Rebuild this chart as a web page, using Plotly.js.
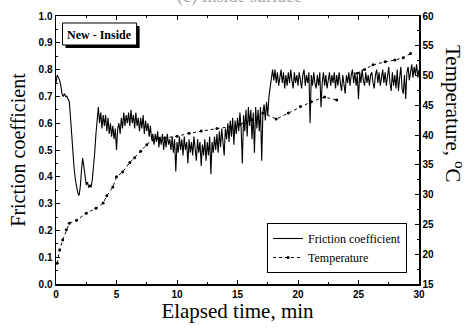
<!DOCTYPE html>
<html>
<head>
<meta charset="utf-8">
<script src="https://cdn.plot.ly/plotly-3.0.1.min.js"></script>
<style>html,body{margin:0;padding:0;background:#fff;}#chart{width:469px;height:331px;}</style>
</head>
<body>
<div id="chart"></div>
<script>
// Friction coefficient sampled every 0.1 min from 0 to 30 min
const frictionStart = 0;
const frictionStep = 0.1;
const friction = [
0.75,0.78,0.77,0.76,0.74,0.71,0.70,0.71,0.70,0.70,
0.69,0.68,0.62,0.55,0.48,0.43,0.39,0.36,0.34,0.33,
0.36,0.42,0.47,0.44,0.40,0.37,0.38,0.36,0.37,0.36,
0.39,0.43,0.49,0.56,0.63,0.66,0.60,0.64,0.58,0.63,
0.59,0.63,0.57,0.62,0.56,0.60,0.55,0.59,0.54,0.58,
0.50,0.58,0.60,0.56,0.62,0.58,0.64,0.59,0.63,0.60,
0.64,0.59,0.65,0.60,0.63,0.58,0.64,0.59,0.62,0.57,
0.62,0.58,0.63,0.56,0.61,0.57,0.60,0.55,0.59,0.54,
0.56,0.52,0.56,0.53,0.57,0.51,0.55,0.52,0.56,0.50,
0.55,0.51,0.56,0.52,0.54,0.50,0.55,0.49,0.54,0.42,
0.53,0.49,0.55,0.50,0.54,0.48,0.55,0.50,0.53,0.45,
0.54,0.49,0.53,0.48,0.55,0.50,0.46,0.54,0.49,0.53,
0.44,0.52,0.48,0.54,0.46,0.53,0.48,0.55,0.41,0.53,
0.49,0.55,0.50,0.56,0.49,0.57,0.51,0.58,0.52,0.48,
0.58,0.54,0.60,0.53,0.61,0.55,0.62,0.52,0.61,0.56,
0.62,0.57,0.64,0.58,0.45,0.63,0.57,0.65,0.55,0.66,
0.59,0.65,0.54,0.64,0.49,0.66,0.58,0.65,0.57,0.66,
0.46,0.64,0.67,0.61,0.68,0.63,0.70,0.74,0.78,0.80,
0.76,0.80,0.75,0.79,0.74,0.78,0.80,0.75,0.79,0.73,
0.78,0.74,0.79,0.75,0.80,0.76,0.73,0.79,0.75,0.78,
0.74,0.79,0.75,0.73,0.78,0.80,0.74,0.78,0.75,0.79,
0.60,0.78,0.74,0.79,0.75,0.73,0.78,0.74,0.79,0.66,
0.75,0.79,0.74,0.78,0.73,0.77,0.79,0.74,0.78,0.75,
0.79,0.73,0.78,0.74,0.79,0.75,0.72,0.78,0.74,0.71,
0.78,0.75,0.79,0.74,0.78,0.80,0.75,0.79,0.74,0.78,
0.69,0.79,0.75,0.80,0.76,0.74,0.79,0.75,0.78,0.74,
0.78,0.79,0.75,0.73,0.78,0.80,0.75,0.79,0.74,0.78,
0.80,0.75,0.79,0.74,0.78,0.81,0.75,0.72,0.79,0.74,
0.78,0.73,0.80,0.72,0.77,0.81,0.73,0.71,0.78,0.69,
0.79,0.81,0.76,0.80,0.82,0.77,0.81,0.78,0.82,0.77,0.80
];

// Temperature (deg C) vs elapsed time (min); null = gap in the record
const tempTime = [0.1,0.3,0.55,0.85,1.1,1.7,2.5,3.3,3.9,4.2,4.7,5.0,5.5,6.1,6.5,7.0,7.5,8.0,8.5,9.0,10.0,11.0,12.0,13.3,14.4,15.2,16.2,17.1,18.2,19.2,20.2,21.1,22.2,23.2,24.0,24.9,25.5,26.2,27.2,28.0,28.7,29.3];
const temperature = [18.5,20.7,22.4,24.1,25.2,25.7,26.9,27.7,28.6,29.8,31.3,33.0,33.8,35.4,36.2,37.3,38.4,39.2,39.4,39.5,39.8,40.3,40.7,41.1,41.4,41.8,42.6,43.7,42.7,43.7,44.8,45.6,46.4,45.9,null,50.4,51.0,51.8,52.3,52.6,53.0,53.7];

const xTicks = [0,5,10,15,20,25,30];
const seriesNames = ['Friction coefficient','Temperature'];

const serif = 'Liberation Serif, Times New Roman, serif';
const sans = 'Liberation Sans, Arial, sans-serif';

const traces = [
  {
    type:'scatter', mode:'lines', name:seriesNames[0],
    x0:frictionStart, dx:frictionStep, y:friction,
    line:{color:'#000', width:1.1}, xaxis:'x', yaxis:'y'
  },
  {
    type:'scatter', mode:'lines+markers', name:seriesNames[1],
    x:tempTime, y:temperature, connectgaps:false,
    line:{color:'#000', width:1, dash:'3px,3px'},
    marker:{color:'#000', size:3},
    xaxis:'x', yaxis:'y2'
  }
];

function px2x(p){return (p-56.5)/362.5;}
function py2y(p){return (284-p)/268;}

const layout = {
  width:469, height:331,
  margin:{l:56, r:50, t:16, b:47, pad:0},
  paper_bgcolor:'#fff', plot_bgcolor:'#fff',
  showlegend:true,
  legend:{
    x:px2x(407), y:py2y(273), xanchor:'right', yanchor:'bottom',
    bgcolor:'#fff', bordercolor:'#000', borderwidth:1,
    font:{family:serif, size:12, color:'#000'},
    tracegroupgap:0, itemwidth:30
  },
  xaxis:{
    range:[0,30], tickvals:xTicks, ticktext:xTicks.map(String),
    ticks:'inside', ticklen:4, tickwidth:1, tickcolor:'#000',
    minor:{ticks:'inside', dtick:2.5, tick0:0, ticklen:2, tickcolor:'#000'},
    showline:true, linecolor:'#000', linewidth:1.5, mirror:'ticks',
    showgrid:false, zeroline:false,
    tickfont:{family:sans, size:10, color:'#000', weight:'bold'},
    title:{text:'Elapsed time, min', font:{family:serif, size:21, color:'#000'}, standoff:4}
  },
  yaxis:{
    range:[0,1], dtick:0.1, tick0:0, tickformat:'.1f',
    ticks:'inside', ticklen:4, tickwidth:1, tickcolor:'#000',
    minor:{ticks:'inside', dtick:0.05, ticklen:2, tickcolor:'#000'},
    showline:true, linecolor:'#000', linewidth:1.5, mirror:true,
    showgrid:false, zeroline:false,
    tickfont:{family:sans, size:10, color:'#000', weight:'bold'},
    title:{text:'Friction coefficient', font:{family:serif, size:20, color:'#000'}, standoff:7}
  },
  yaxis2:{
    overlaying:'y', side:'right', range:[15,60], dtick:5, tick0:15,
    ticks:'inside', ticklen:4, tickwidth:1, tickcolor:'#000',
    minor:{ticks:'inside', dtick:2.5, ticklen:2, tickcolor:'#000'},
    showline:true, linecolor:'#000', linewidth:1.5,
    showgrid:false, zeroline:false,
    tickfont:{family:sans, size:10, color:'#000', weight:'bold'}
  },
  shapes:[
    {type:'rect', xref:'paper', yref:'paper', x0:px2x(66), x1:px2x(140), y0:py2y(48), y1:py2y(26), fillcolor:'#000', line:{width:0}, layer:'above'},
    {type:'rect', xref:'paper', yref:'paper', x0:px2x(63), x1:px2x(137), y0:py2y(45), y1:py2y(23), fillcolor:'#fff', line:{color:'#000', width:1}, layer:'above'}
  ],
  annotations:[
    {xref:'paper', yref:'paper', x:px2x(100), y:py2y(34.5), text:'<b>New - Inside</b>', showarrow:false,
     font:{family:serif, size:12, color:'#000'}, xanchor:'center', yanchor:'middle'},
    {xref:'paper', yref:'paper', x:px2x(454), y:py2y(114), text:'Temperature, <sup>o</sup>C', showarrow:false,
     textangle:90, font:{family:serif, size:21, color:'#000'}, xanchor:'center', yanchor:'middle'},
    {xref:'paper', yref:'paper', x:px2x(240), y:py2y(-4), text:'(c) Inside surface', showarrow:false,
     font:{family:serif, size:18, color:'#aaa'}, xanchor:'center', yanchor:'middle'}
  ]
};

Plotly.newPlot('chart', traces, layout, {displayModeBar:false, staticPlot:true});
</script>
</body>
</html>
